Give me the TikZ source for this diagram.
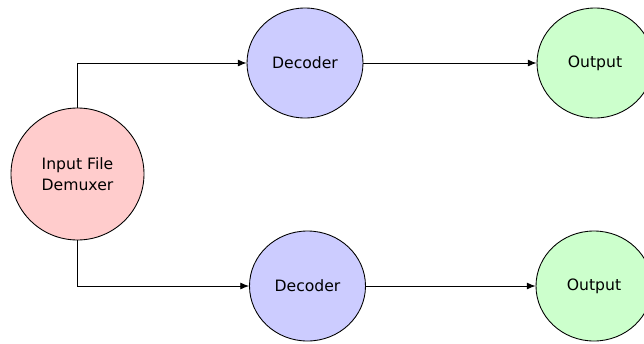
\documentclass[tikz,border=0pt]{standalone}
\usepackage{fontspec}
\newfontfamily\labelfont{DejaVu Sans}
\usetikzlibrary{shapes.geometric, arrows.meta}

\definecolor{demuxpink}{HTML}{FFCCCC}
\definecolor{decoderblue}{HTML}{CCCCFF}
\definecolor{outputgreen}{HTML}{CCFFCC}

\tikzset{
    stage/.style = {ellipse, draw, line width = 0.5pt, inner sep = 0pt,
        minimum width = 2.32cm, minimum height = 2.2cm, align = center,
        font = \labelfont\fontsize{8.9}{11.6}\selectfont},
    flow/.style = {-{Latex[length = 5pt, width = 4pt]}, line width = 0.5pt},
}

\begin{document}
\begin{tikzpicture}
        \useasboundingbox (0, 0) rectangle (12.88, 6.86);

        \node [stage, fill = demuxpink, minimum width = 2.66cm, minimum height = 2.64cm]
            (demux) at (1.55, 3.38) {Input File\\Demuxer};
        \node [stage, fill = decoderblue] (dec1) at (6.10, 5.60) {Decoder};
        \node [stage, fill = decoderblue] (dec2) at (6.15, 1.14) {Decoder};
        \node [stage, fill = outputgreen] (out1) at (11.90, 5.60) {Output};
        \node [stage, fill = outputgreen] (out2) at (11.88, 1.14) {Output};

        \draw [flow] (demux.north) |- (dec1);
        \draw [flow] (demux.south) |- (dec2);
        \draw [flow]
            (dec1) edge (out1)
            (dec2) edge (out2)
        ;
    \end{tikzpicture}
\end{document}
